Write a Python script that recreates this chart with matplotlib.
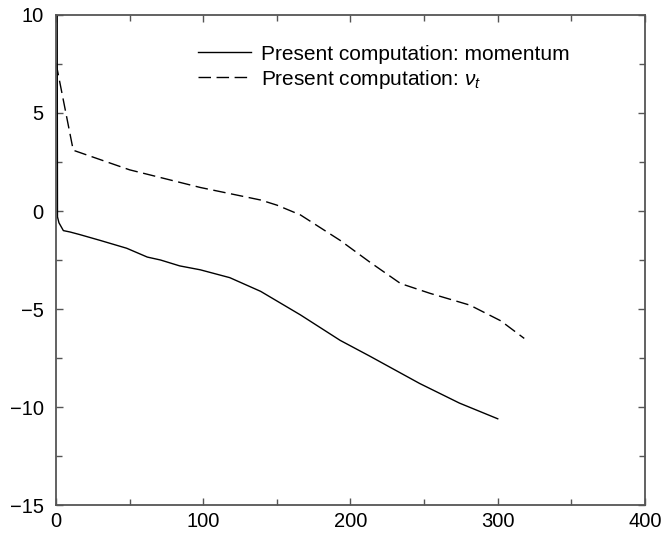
import matplotlib.pyplot as plt
import numpy as np
from matplotlib.ticker import MultipleLocator

plt.rcParams['font.family'] = ['Liberation Sans', 'DejaVu Sans']
plt.rcParams['mathtext.fontset'] = 'custom'
plt.rcParams['mathtext.rm'] = 'Liberation Sans'
plt.rcParams['mathtext.it'] = 'Liberation Sans:italic'

### momentum residual (solid)
mom_x = [0.8, 1.0, 2, 5, 9.5, 16, 30, 48, 62, 71, 84, 98, 118, 139, 166, 193, 213, 247, 274, 300]
mom_y = [10, -0.3, -0.6, -1.0, -1.07, -1.2, -1.5, -1.9, -2.35, -2.5, -2.8, -3.0, -3.4, -4.1, -5.3, -6.6, -7.4, -8.8, -9.8, -10.6]

### nu_t residual (dashed)
nut_x = [0, 11.7, 50, 98, 139, 150, 166, 193, 213, 234, 254, 281, 302, 318]
nut_y = [7.55, 3.1, 2.1, 1.2, 0.56, 0.3, -0.2, -1.5, -2.6, -3.7, -4.2, -4.8, -5.6, -6.5]

fig = plt.figure(figsize=(6.62, 5.35), dpi=100)
ax = fig.add_axes([0.0846, 0.056, 0.8897, 0.916])

ax.plot(mom_x, mom_y, 'k-', lw=1.0, label='Present computation: momentum')
ax.plot(nut_x, nut_y, 'k--', lw=1.0, dashes=(9, 4), label=r'Present computation: $\nu_t$')

ax.set_xlim(0, 400)
ax.set_ylim(-15, 10)
ax.xaxis.set_major_locator(MultipleLocator(100))
ax.xaxis.set_minor_locator(MultipleLocator(50))
ax.yaxis.set_major_locator(MultipleLocator(5))
ax.yaxis.set_minor_locator(MultipleLocator(2.5))
ax.tick_params(which='both', direction='in', top=True, right=True, colors='#555555', labelcolor='black', labelsize=14.5)
ax.tick_params(which='major', length=5, width=1)
ax.tick_params(which='minor', length=4, width=1)
ax.tick_params(axis='y', pad=9)
ax.tick_params(axis='x', pad=5)
for s in ax.spines.values():
	s.set_color('#555555')
	s.set_linewidth(1.3)

ax.legend(loc='upper left', bbox_to_anchor=(0.21, 0.978), frameon=False, fontsize=15, handlelength=2.5, handletextpad=0.5, labelspacing=0.2)

fig.savefig('out.png', dpi=100)
